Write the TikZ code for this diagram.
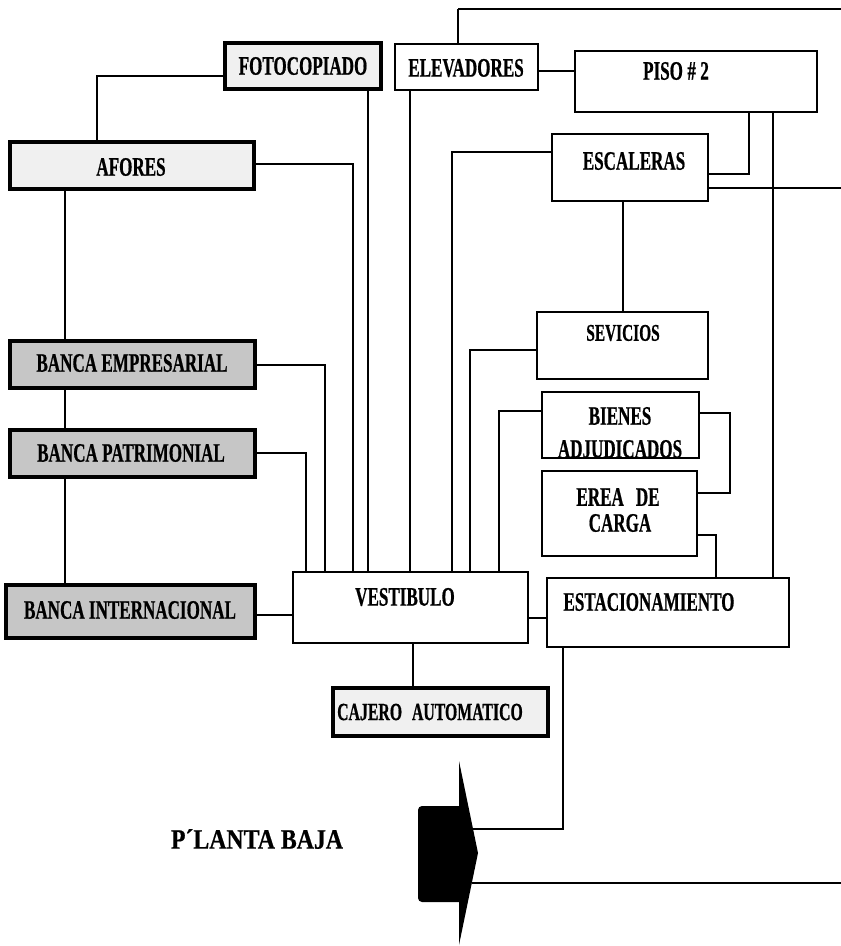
\documentclass[tikz,border=0pt]{standalone}
\usepackage{fontspec}
\newfontfamily\lab[FakeStretch=0.64,FakeBold=0.6]{Liberation Serif}
\newfontfamily\labw[FakeStretch=0.85,FakeBold=0.6]{Liberation Serif}
\begin{document}
\begin{tikzpicture}[x=0.75pt,y=-0.75pt,
  box/.style={draw, line width=1.6pt, outer sep=0pt, inner sep=0pt, fill=white},
  shadelight/.style={draw, line width=2.4pt, outer sep=0pt, inner sep=0pt, fill=gray!12},
  shadedark/.style={draw, line width=2.6pt, outer sep=0pt, inner sep=0pt, fill=gray!45},
  txt/.style={font=\lab\bfseries\fontsize{20}{21}\selectfont, inner sep=0pt, align=center},
  wire/.style={line width=1.4pt}]
\useasboundingbox (0,0) rectangle (841,946);
% helper columns and rows
\foreach \n/\v in {458/458,749/749,773/773,452/452,623/623,470/470,499/499,730/730,716/716,410/410,368/368,97/97,353/353,65/65,325/325,306/306,413/413,563/563}
  {\coordinate (X\n) at (\v,0);}
\foreach \n/\v in {9/9,71/71,174/174,188/188,152/152,350/350,411/411,413/413,493/493,535/535,76/76,164/164,365/365,453/453,615/615,618/618,829/829,883/883}
  {\coordinate (Y\n) at (0,\v);}
\coordinate (R9) at (841,9);
\coordinate (R188) at (841,188);
\coordinate (R883) at (841,883);
\coordinate (arrowA) at (470,829);
\coordinate (arrowB) at (472,883);

% connectors running to the page edge (drawn first, boxes on top)
\draw[wire] (X458 |- Y9) -- (R9);
\draw[wire] (X773 |- Y188) -- (R188);
\draw[wire] (arrowB) -- (R883);

% boxes
\node[shadelight, minimum width=117pt, minimum height=34.5pt] (foto) at (303,66) {};
\node[box, minimum width=107.25pt, minimum height=34.5pt] (elev) at (466.5,67) {};
\node[box, minimum width=181.5pt, minimum height=45.75pt] (piso) at (696,81.5) {};
\node[box, minimum width=117pt, minimum height=50.25pt] (esca) at (630,167.5) {};
\node[shadelight, minimum width=183pt, minimum height=35.25pt] (afores) at (132,165.5) {};
\node[shadedark, minimum width=183.75pt, minimum height=35.25pt] (emp) at (132.5,364.5) {};
\node[shadedark, minimum width=183.75pt, minimum height=35.25pt] (pat) at (132.5,453.5) {};
\node[shadedark, minimum width=186.75pt, minimum height=39.75pt] (inter) at (130.5,611.5) {};
\node[box, minimum width=176.25pt, minimum height=53.25pt] (vest) at (410.5,607.5) {};
\node[box, minimum width=181.5pt, minimum height=51.75pt] (estac) at (668,612.5) {};
\node[box, minimum width=128.25pt, minimum height=50.25pt] (sev) at (622.5,345.5) {};
\node[box, minimum width=117.75pt, minimum height=49.5pt] (bienes) at (620.5,425) {};
\node[box, minimum width=116.25pt, minimum height=63.75pt] (erea) at (619.5,513.5) {};
\node[shadelight, minimum width=161.25pt, minimum height=36pt] (cajero) at (440.5,712) {};

% connectors between boxes
\draw[wire] (elev.north -| X458) -- (X458 |- Y9);
\draw[wire] (elev.east |- Y71) -- (piso.west |- Y71);
\draw[wire] (piso.south -| X749) |- (esca.east |- Y174);
\draw[wire] (piso.south -| X773) -- (estac.north -| X773);
\draw[wire] (esca.east |- Y188) -- (X773 |- Y188);
\draw[wire] (esca.west |- Y152) -| (vest.north -| X452);
\draw[wire] (esca.south -| X623) -- (sev.north -| X623);
\draw[wire] (sev.west |- Y350) -| (vest.north -| X470);
\draw[wire] (bienes.west |- Y411) -| (vest.north -| X499);
\draw[wire] (bienes.east |- Y413) -| (X730 |- Y493) -- (erea.east |- Y493);
\draw[wire] (erea.east |- Y535) -| (estac.north -| X716);
\draw[wire] (elev.south -| X410) -- (vest.north -| X410);
\draw[wire] (foto.south -| X368) -- (vest.north -| X368);
\draw[wire] (foto.west |- Y76) -| (afores.north -| X97);
\draw[wire] (afores.east |- Y164) -| (vest.north -| X353);
\draw[wire] (afores.south -| X65) -- (emp.north -| X65);
\draw[wire] (emp.south -| X65) -- (pat.north -| X65);
\draw[wire] (pat.south -| X65) -- (inter.north -| X65);
\draw[wire] (emp.east |- Y365) -| (vest.north -| X325);
\draw[wire] (pat.east |- Y453) -| (vest.north -| X306);
\draw[wire] (inter.east |- Y615) -- (vest.west |- Y615);
\draw[wire] (vest.east |- Y618) -- (estac.west |- Y618);
\draw[wire] (vest.south -| X413) -- (cajero.north -| X413);
\draw[wire] (estac.south -| X563) |- (arrowA);

% entrance arrow
\fill[rounded corners=3pt] (418,806) rectangle (463,902);
\fill (459,761) -- (478,853) -- (459,945) -- cycle;

% labels
\node[txt] (tfoto) at (303,66) {FOTOCOPIADO};
\node[txt] (telev) at (466,68) {ELEVADORES};
\node[txt] (tpiso) at (676,71) {PISO\,\#\,2};
\node[txt] (tesca) at (634,161) {ESCALERAS};
\node[txt] (tafores) at (131,167) {AFORES};
\node[txt] (temp) at (132,363) {BANCA EMPRESARIAL};
\node[txt] (tpat) at (131,453) {BANCA PATRIMONIAL};
\node[txt] (tinter) at (130,610) {BANCA INTERNACIONAL};
\node[txt] (tsev) at (623,333) {\fontsize{18}{19}\selectfont SEVICIOS};
\begin{scope}
  \clip (543,393) rectangle (698,457);
  \node[txt] (tbien1) at (620,416) {BIENES};
  \node[txt] (tbien2) at (620,449) {ADJUDICADOS};
\end{scope}
\draw[line width=1.6pt] (bienes.south west) -- (bienes.south east);
\node[txt] (terea1) at (618,497) {EREA\hspace{0.45em}DE};
\node[txt] (terea2) at (620,523) {CARGA};
\node[txt] (tvest) at (405,597) {VESTIBULO};
\node[txt] (testac) at (649,602) {ESTACIONAMIENTO};
\node[txt] (tcaj) at (430,712) {\fontsize{18.5}{19}\selectfont CAJERO\hspace{0.4em}AUTOMATICO};
\node[font=\labw\bfseries\fontsize{21}{22}\selectfont, inner sep=0pt] (tplanta) at (257,839) {P´LANTA BAJA};
\end{tikzpicture}
\end{document}
